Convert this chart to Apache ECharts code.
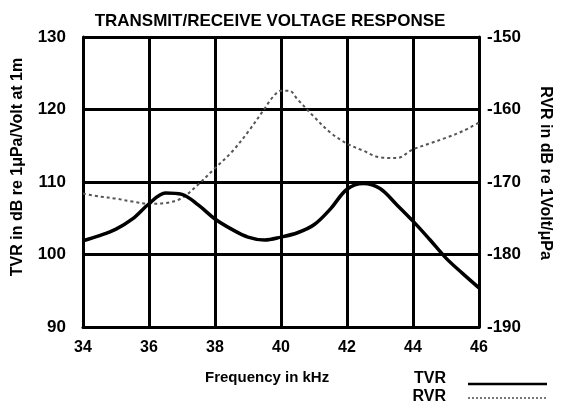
<!DOCTYPE html>
<html>
<head>
<meta charset="utf-8">
<script src="https://cdn.jsdelivr.net/npm/echarts@6/dist/echarts.min.js"></script>
<style>
  html, body { margin: 0; padding: 0; background: #fff; }
  #chart { width: 561px; height: 411px; }
</style>
</head>
<body>
<div id="chart"></div>
<script>
// Frequency sweep (kHz) and response curves
const tvrFreq = [34, 34.5, 35, 35.5, 36, 36.5, 37, 37.5, 38, 38.5, 39, 39.5, 40, 40.5, 41, 41.5, 42, 42.5, 43, 43.5, 44, 44.5, 45, 45.5, 46];
const tvrValues = [101.9, 102.6, 103.5, 104.9, 107.0, 108.5, 108.3, 106.8, 104.9, 103.5, 102.4, 102.0, 102.4, 103.0, 104.1, 106.3, 109.0, 109.8, 109.1, 106.9, 104.6, 102.1, 99.5, 97.4, 95.4];

const rvrFreq = [34, 34.5, 35, 35.5, 36, 36.5, 37, 37.5, 38, 38.5, 39, 39.5, 39.75, 40, 40.25, 40.5, 41, 41.5, 42, 42.5, 43, 43.5, 44, 44.5, 45, 45.5, 46];
const rvrValues = [-171.6, -172.0, -172.3, -172.7, -173.0, -172.9, -172.2, -170.3, -168.1, -165.9, -163.1, -159.9, -158.3, -157.4, -157.4, -158.6, -161.0, -163.2, -164.7, -165.7, -166.6, -166.7, -165.5, -164.7, -163.9, -163.0, -161.8];

const freqTicks = [34, 36, 38, 40, 42, 44, 46];
const tvrAxis = { min: 90, max: 130, step: 10 };
const rvrAxis = { min: -190, max: -150, step: 10 };
const seriesNames = ['TVR', 'RVR'];

const font = 'Liberation Sans, Arial, sans-serif';
const chart = echarts.init(document.getElementById('chart'), null, { renderer: 'canvas' });

const pairs = (xs, ys) => xs.map((x, i) => [x, ys[i]]);

const tvrLine = { color: '#000', width: 3.5 };
const rvrLine = { color: '#555', width: 2, type: [3, 3] };

chart.setOption({
  animation: false,
  backgroundColor: '#fff',
  title: {
    text: 'TRANSMIT/RECEIVE VOLTAGE RESPONSE',
    left: 265, top: 8, textAlign: 'center',
    textStyle: { fontFamily: font, fontSize: 17, fontWeight: 'bold', color: '#000' }
  },
  grid: { left: 83, right: 78, top: 37, bottom: 84 },
  xAxis: {
    type: 'value',
    min: freqTicks[0], max: freqTicks[freqTicks.length - 1], interval: 2,
    axisLine: { show: true, lineStyle: { color: '#000', width: 3 } },
    axisTick: { show: false },
    axisLabel: { margin: 13, fontFamily: font, fontSize: 16, fontWeight: 'bold', color: '#000' },
    splitLine: { show: true, lineStyle: { color: '#000', width: 3 } }
  },
  yAxis: [
    {
      type: 'value', position: 'left',
      min: tvrAxis.min, max: tvrAxis.max, interval: tvrAxis.step,
      axisLine: { show: true, lineStyle: { color: '#000', width: 3 } },
      axisTick: { show: false },
      axisLabel: { margin: 17, fontFamily: font, fontSize: 17, fontWeight: 'bold', color: '#000' },
      splitLine: { show: true, lineStyle: { color: '#000', width: 3 } },
      name: 'TVR in dB re 1\u03BCPa/Volt at 1m',
      nameLocation: 'middle', nameRotate: 90, nameGap: 57,
      nameTextStyle: { fontFamily: font, fontSize: 16, fontWeight: 'bold', color: '#000', padding: [0, 0, 0, 30] }
    },
    {
      type: 'value', position: 'right',
      min: rvrAxis.min, max: rvrAxis.max, interval: rvrAxis.step,
      axisLine: { show: true, lineStyle: { color: '#000', width: 3 } },
      axisTick: { show: false },
      axisLabel: { margin: 8, fontFamily: font, fontSize: 17, fontWeight: 'bold', color: '#000' },
      splitLine: { show: false },
      name: 'RVR in dB re 1Volt/\u03BCPa',
      nameLocation: 'middle', nameRotate: -90, nameGap: 58,
      nameTextStyle: { fontFamily: font, fontSize: 16, fontWeight: 'bold', color: '#000', padding: [0, 18, 0, 0] }
    }
  ],
  graphic: [
    {
      type: 'text', left: 205, top: 370,
      style: { text: 'Frequency in kHz', font: 'bold 15px Liberation Sans, Arial, sans-serif', fill: '#000' }
    },
    // key: series names with line samples
    {
      type: 'text', right: 115, top: 371,
      style: { text: seriesNames[0], font: 'bold 16px Liberation Sans, Arial, sans-serif', fill: '#000' }
    },
    {
      type: 'line', shape: { x1: 468, y1: 384, x2: 547, y2: 384 },
      style: { stroke: tvrLine.color, lineWidth: 2.5 }
    },
    {
      type: 'text', right: 115, top: 389,
      style: { text: seriesNames[1], font: 'bold 16px Liberation Sans, Arial, sans-serif', fill: '#000' }
    },
    {
      type: 'line', shape: { x1: 468, y1: 398, x2: 547, y2: 398 },
      style: { stroke: '#777', lineWidth: 2, lineDash: [2, 2] }
    }
  ],
  series: [
    {
      name: seriesNames[0], type: 'line', yAxisIndex: 0, smooth: 0.35, symbol: 'none',
      lineStyle: tvrLine,
      data: pairs(tvrFreq, tvrValues), z: 5
    },
    {
      name: seriesNames[1], type: 'line', yAxisIndex: 1, smooth: 0.35, symbol: 'none',
      lineStyle: rvrLine,
      data: pairs(rvrFreq, rvrValues), z: 4
    }
  ]
});
</script>
</body>
</html>
